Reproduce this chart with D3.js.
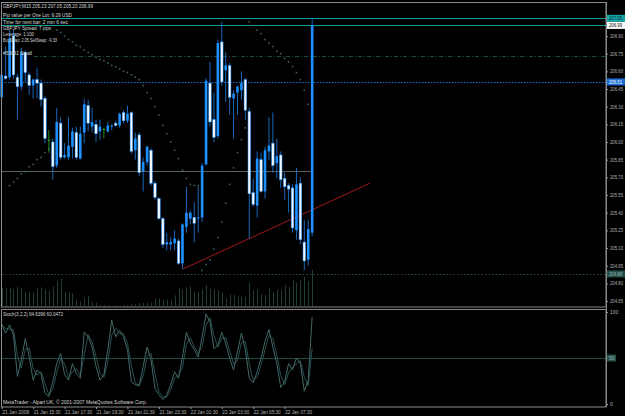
<!DOCTYPE html>
<html lang="en">
<head>
<meta charset="UTF-8">
<title>GBPJPY,M15</title>
<style>
  body { margin: 0; background: #000; }
  svg { display: block; }
  text { font-family: "Liberation Sans", Arial, sans-serif; }
</style>
</head>
<body>
<svg id="chart"></svg>
<script src="https://cdnjs.cloudflare.com/ajax/libs/d3/7.9.0/d3.min.js"></script>
<script>
// GBPJPY M15, 21 Jan 2008 13:30 -> 22 Jan 09:15 (80 bars)
const opens  = [206.38,206.56,206.55,206.90,206.55,206.47,206.76,206.57,206.48,206.53,
                206.50,206.37,206.02,206.00,205.80,206.16,205.87,205.87,205.96,206.08,
                205.86,206.08,206.31,206.13,206.15,206.09,206.11,206.09,206.13,206.16,
                206.14,206.25,206.18,206.25,205.93,206.06,205.75,205.83,205.93,205.65,
                205.52,205.35,205.13,205.13,205.14,205.16,204.97,205.28,205.35,205.36,
                205.35,205.36,205.81,206.50,206.19,206.05,206.85,206.61,206.65,206.37,
                206.42,206.44,206.53,206.26,205.57,205.46,205.85,205.58,205.92,205.99,
                205.82,205.89,205.69,205.63,205.61,205.25,205.65,205.15,205.00,205.23];
const highs  = [206.61,206.81,206.95,206.95,206.58,206.80,206.78,206.59,206.54,206.63,
                206.53,206.39,206.10,206.03,206.29,206.21,205.99,206.21,206.12,206.13,
                206.13,206.37,206.36,206.29,206.19,206.19,206.12,206.17,206.15,206.18,
                206.25,206.27,206.31,206.26,206.08,206.08,205.87,205.97,205.95,205.67,
                205.53,205.36,205.23,205.19,205.25,205.18,205.31,205.62,205.42,205.49,
                205.62,205.82,206.54,206.68,206.42,206.87,207.02,206.76,206.67,206.44,
                206.48,206.60,206.54,206.29,205.69,205.92,205.91,205.96,206.21,206.25,
                206.03,205.92,205.74,205.65,205.64,205.78,205.70,205.34,205.34,207.05];
const lows   = [206.36,206.53,206.53,206.54,206.19,206.44,206.51,206.40,206.37,206.37,
                206.30,205.99,205.91,205.68,205.78,205.85,205.86,205.85,205.86,205.85,
                205.85,205.99,206.09,206.08,206.00,206.02,206.03,206.08,206.10,206.13,
                206.12,206.16,206.16,205.90,205.85,205.71,205.58,205.80,205.63,205.51,
                205.34,205.10,205.08,205.08,205.08,204.96,204.92,205.23,205.30,205.15,
                205.23,205.32,205.80,206.13,206.00,206.03,206.48,206.34,206.23,206.03,
                206.23,206.36,206.19,205.18,205.45,205.36,205.57,205.52,205.85,205.74,
                205.69,205.61,205.51,205.40,205.23,205.17,205.13,204.91,204.95,205.20];
const closes = [206.57,206.54,206.88,206.57,206.47,206.76,206.59,206.48,206.53,206.50,
                206.36,206.03,206.02,205.79,206.17,205.87,205.89,205.97,206.09,205.87,
                206.07,206.32,206.16,206.17,206.07,206.13,206.11,206.14,206.14,206.14,
                206.24,206.18,206.24,205.92,206.03,205.74,205.83,205.96,205.65,205.53,
                205.35,205.13,205.15,205.15,205.18,204.97,205.30,205.40,205.40,205.31,
                205.36,205.80,206.52,206.17,206.04,206.84,206.51,206.65,206.38,206.41,
                206.47,206.50,206.27,205.56,205.47,205.86,205.58,205.93,205.97,205.80,
                205.88,205.68,205.62,205.60,205.27,205.64,205.17,204.99,205.26,206.99];
const volumes = [180,177,187,170,193,180,143,143,143,187,
                 187,167,153,193,247,277,143,137,127,67,
                 47,87,103,40,33,13,10,7,3,10,
                 3,7,10,17,20,27,30,27,33,77,
                 77,67,67,53,107,177,160,187,193,143,
                 143,167,210,177,167,160,133,77,117,110,
                 93,93,93,233,160,167,117,110,187,137,
                 167,160,210,190,260,230,260,290,250,360];
// Parabolic SAR (null = no dot)
const sar = [null,null,205.63,205.66,205.69,205.73,205.75,205.79,205.81,205.85,
             205.87,205.91,205.94,null,206.95,206.93,206.90,206.87,206.85,206.82,
             206.81,206.78,206.76,206.74,206.72,206.70,206.69,206.67,206.65,206.64,
             206.62,206.60,206.59,206.57,206.55,206.53,206.48,206.42,206.37,206.30,
             206.23,206.14,206.07,206.00,205.93,205.86,205.76,205.69,205.64,205.63,
             205.63,204.91,204.96,205.00,205.09,205.19,205.32,205.48,205.64,205.78,
             205.91,206.02,206.12,207.02,206.99,206.95,206.92,206.87,206.84,206.81,
             206.77,206.75,206.71,206.68,206.64,206.59,206.53,206.44,206.32,null];
// Stochastic(3,2,2)
const stochMain = [87,77,86,75,30,48,71,51,26,37,33,12,8,24,44,55,32,26,44,33,
                   28,78,73,62,41,26,32,59,91,73,80,73,59,24,21,20,41,62,48,17,
                   10,5,10,21,35,28,51,78,66,59,51,73,98,89,60,64,78,66,50,37,
                   57,77,59,28,23,35,50,68,81,62,44,18,24,44,37,50,44,14,26,94.64];
const stochSignal = [85,82,81.5,80.5,52.5,39,59.5,61,38.5,31.5,35,22.5,10,16,34,49.5,43.5,29,35,38.5,
                     30.5,53,75.5,67.5,51.5,33.5,29,45.5,75,82,76.5,76.5,66,41.5,22.5,20.5,30.5,51.5,55,32.5,
                     13.5,7.5,7.5,15.5,28,31.5,39.5,64.5,72,62.5,55,62,85.5,93.5,74.5,62,71,72,58,43.5,
                     47,67,68,43.5,25.5,29,42.5,59,74.5,71.5,53,31,21,34,40.5,43.5,47,29,20,60.05];

const priceTicks = [206.90,206.75,206.60,206.45,206.30,206.15,206.00,205.85,205.70,
                    205.55,205.40,205.25,205.10,204.95,204.80,204.65];
const timeBars = [0,8,16,24,32,40,48,56,64,72];
const timeLabels = ["21 Jan 2008","21 Jan 15:30","21 Jan 17:30","21 Jan 19:30","21 Jan 21:30",
                    "21 Jan 23:30","22 Jan 01:30","22 Jan 03:30","22 Jan 05:30","22 Jan 07:30"];
const infoLines = ["Pip value per One Lot: 9.29 USD","Time for next bar: 2 min 6 sec",
                   "GBPJPY Spread: 7 pips","Leverage: 1:100","BuySwap: 2.05   SellSwap: -9.33"];
const levelPrices = [207.05, 206.99, 206.73, 206.51, 205.75, 204.88];
const trendBars = [46, 93.7];
const trendPrices = [204.92, 205.65];

const W = 625, H = 416, axisX = 606;
const svg = d3.select("#chart").attr("width", W).attr("height", H);
svg.append("rect").attr("width", W).attr("height", H).attr("fill", "#000");

const x = d3.scaleLinear().domain([0, 155]).range([1.7, 1.7 + 155 * 3.93]);
const y = d3.scaleLinear().domain([204.65, 206.90]).range([301, 36]);
const vy = d3.scaleLinear().domain([0, 400]).range([306, 266]);
const sy = d3.scaleLinear().domain([0, 100]).range([404, 312]);
const snap = v => Math.round(v) + 0.5;

const bull = "#1e90ff", wickCol = "#1c72d0", doji = "#2aa02a";

// level lines
const level = (p, x1, x2, col, dash) => svg.append("line")
  .attr("x1", x1).attr("x2", x2).attr("y1", snap(y(p))).attr("y2", snap(y(p)))
  .attr("stroke", col).attr("stroke-dasharray", dash);
level(levelPrices[0], 2, axisX, "#119a9a", null);
level(levelPrices[1], 2, axisX, "#119a9a", null);
level(levelPrices[2], 34, axisX, "#1f4a46", "4,2,1,2");
level(levelPrices[3], 2, axisX, "#1e6fd8", "1.5,1.5");
level(levelPrices[4], 2, x(79) + 1, "#55625f", null);
level(levelPrices[5], 2, axisX, "#24504a", "1.5,2");

// volumes
svg.append("g").selectAll("line").data(volumes).join("line")
  .attr("x1", (d, i) => snap(x(i))).attr("x2", (d, i) => snap(x(i)))
  .attr("y1", vy(0)).attr("y2", d => vy(d))
  .attr("stroke", "#1f3d37").attr("stroke-width", 1);

// trend line
svg.append("line")
  .attr("x1", x(trendBars[0])).attr("y1", y(trendPrices[0]))
  .attr("x2", x(trendBars[1])).attr("y2", y(trendPrices[1]))
  .attr("stroke", "#a01818").attr("stroke-width", 1);

// parabolic SAR
svg.append("g").selectAll("rect").data(sar.map((v, i) => [i, v]).filter(d => d[1] !== null)).join("rect")
  .attr("x", d => x(d[0]) - 0.8).attr("y", d => y(d[1]) - 0.8)
  .attr("width", 1.6).attr("height", 1.6).attr("fill", "#3b615b");

// candles
const candles = svg.append("g").selectAll("g").data(opens).join("g");
candles.append("line")
  .attr("x1", (d, i) => x(i)).attr("x2", (d, i) => x(i))
  .attr("y1", (d, i) => y(highs[i])).attr("y2", (d, i) => y(lows[i]))
  .attr("stroke", (d, i) => opens[i] === closes[i] ? doji : wickCol).attr("stroke-width", 0.9);
candles.append("rect")
  .attr("x", (d, i) => x(i) - 1.3).attr("width", 2.6)
  .attr("y", (d, i) => y(Math.max(opens[i], closes[i])))
  .attr("height", (d, i) => Math.max(1, Math.abs(y(opens[i]) - y(closes[i]))))
  .attr("fill", (d, i) => opens[i] === closes[i] ? doji : closes[i] > opens[i] ? bull : "#f2f6ff")
  .attr("stroke", (d, i) => opens[i] === closes[i] ? "none" : bull)
  .attr("stroke-width", (d, i) => closes[i] > opens[i] ? 0 : 0.5);

// stochastic
svg.append("line").attr("x1", 2).attr("x2", axisX).attr("y1", snap(sy(50))).attr("y2", snap(sy(50)))
  .attr("stroke", "#1f4a46");
const sLine = vals => d3.line().x((d, i) => x(i)).y(d => sy(d))(vals);
svg.append("path").attr("d", sLine(stochSignal)).attr("fill", "none").attr("stroke", "#29504c").attr("stroke-width", 1);
svg.append("path").attr("d", sLine(stochMain)).attr("fill", "none").attr("stroke", "#44686a").attr("stroke-width", 1);

// frames
svg.append("rect").attr("x", 1.5).attr("y", 2.5).attr("width", axisX - 1.5).attr("height", 304.5)
  .attr("fill", "none").attr("stroke", "#8a8a8a");
svg.append("rect").attr("x", 1.5).attr("y", 309.5).attr("width", axisX - 1.5).attr("height", 97.5)
  .attr("fill", "none").attr("stroke", "#8a8a8a");

// price axis
const ya = svg.append("g").attr("transform", `translate(${axisX},0)`)
  .call(d3.axisRight(y).tickValues(priceTicks).tickSize(2).tickFormat(d3.format(".2f")));
ya.select(".domain").remove();
ya.selectAll("line").attr("stroke", "#9a9a9a");
ya.selectAll("text").attr("fill", "#b4b4b4").attr("font-size", 5).attr("x", 4)
  .attr("textLength", 13).attr("lengthAdjust", "spacingAndGlyphs");

// price boxes
const box = (p, bg, fg) => {
  svg.append("rect").attr("x", axisX + 1).attr("y", y(p) - 3.5).attr("width", 18).attr("height", 7).attr("fill", bg);
  svg.append("text").attr("x", axisX + 3).attr("y", y(p) + 2).attr("font-size", 5).attr("fill", fg)
    .attr("textLength", 13).attr("lengthAdjust", "spacingAndGlyphs").text(d3.format(".2f")(p));
};
box(levelPrices[0], "#14a3a3", "#0a2a2a");
box(levelPrices[1], "#ffffff", "#000000");
box(levelPrices[3], "#1e6fd8", "#ffffff");
box(levelPrices[5], "#24504a", "#a0b0b0");

// stoch axis
const sa = svg.append("g").attr("transform", `translate(${axisX},0)`)
  .call(d3.axisRight(sy).tickValues([100, 0]).tickSize(2));
sa.select(".domain").remove();
sa.selectAll("line").attr("stroke", "#9a9a9a");
sa.selectAll("text").attr("fill", "#b4b4b4").attr("font-size", 5).attr("x", 4);
svg.append("rect").attr("x", axisX + 1).attr("y", sy(50) - 3.5).attr("width", 9).attr("height", 7).attr("fill", "#24504a");
svg.append("text").attr("x", axisX + 3).attr("y", sy(50) + 2).attr("font-size", 5).attr("fill", "#a0b0b0").text("50");

// axis line
svg.append("line").attr("x1", axisX + 0.5).attr("x2", axisX + 0.5).attr("y1", 2).attr("y2", 407).attr("stroke", "#8a8a8a");

// time axis
const ta = svg.append("g").attr("transform", "translate(0,407)")
  .call(d3.axisBottom(x).tickValues(timeBars).tickSize(2).tickFormat((d, i) => timeLabels[i]));
ta.select(".domain").remove();
ta.selectAll("line").attr("stroke", "#9a9a9a");
ta.selectAll("text").attr("fill", "#b4b4b4").attr("font-size", 5).attr("text-anchor", "start")
  .attr("y", 3).attr("dy", "0.71em").attr("textLength", 27).attr("lengthAdjust", "spacingAndGlyphs");

// info texts
const txt = (s, tx, ty, len) => svg.append("text").attr("x", tx).attr("y", ty).attr("font-size", 5.5)
  .attr("fill", "#d8d8d8").attr("textLength", len).attr("lengthAdjust", "spacingAndGlyphs").text(s);
txt("GBPJPY,M15  205.23 207.05 205.20 206.99", 3, 8, 90);
const infoY = [16.5, 24, 30, 36, 41.5], infoLen = [69, 65, 48, 31, 54];
infoLines.forEach((s, i) => txt(s, 3, infoY[i], infoLen[i]));
txt("#53031 Small", 3, 55, 29);
txt("Stoch(3,2,2) 94.6396 60.0472", 3, 316, 60);
txt("MetaTrader - Alpari UK, \u00a9 2001-2007 MetaQuotes Software Corp.", 3, 404, 144);
</script>
</body>
</html>
